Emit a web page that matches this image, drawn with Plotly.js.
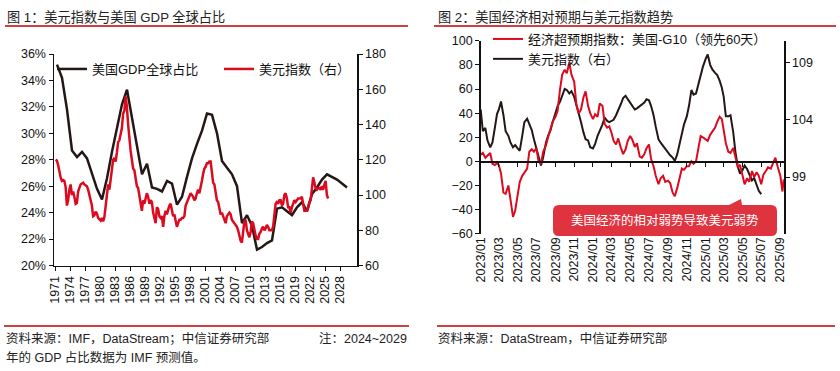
<!DOCTYPE html>
<html><head><meta charset="utf-8">
<script src="https://cdn.plot.ly/plotly-3.0.1.min.js"></script>
<style>html,body{margin:0;padding:0;background:#fff;}#chart{width:840px;height:371px;}</style>
</head><body><div id="chart"></div>
<script>
// ---------- Figure 1: US share of world GDP (annual, %) and dollar index (quarterly) ----------
const gdpYears = [1971,1972,1973,1974,1975,1976,1977,1978,1979,1980,1981,1982,1983,1984,1985,1986,1987,1988,1989,1990,
  1991,1992,1993,1994,1995,1996,1997,1998,1999,2000,2001,2002,2003,2004,2005,2006,2007,2008,2009,2010,
  2011,2012,2013,2014,2015,2016,2017,2018,2019,2020,2021,2022,2023,2024,2025,2026,2027,2028,2029];
const gdpShare = [35.2,34.2,31.8,28.7,28.2,28.6,28.1,27.0,25.8,25.0,26.6,28.6,30.3,32.2,33.3,31.1,28.8,26.9,27.7,25.9,
  25.8,25.6,26.4,26.2,24.6,25.2,26.7,28.1,29.2,30.2,31.5,31.4,30.0,27.9,27.4,26.9,26.0,23.2,23.8,23.0,
  21.2,21.4,21.7,21.9,24.3,24.4,24.1,23.8,24.4,24.8,24.1,25.4,25.9,26.5,26.9,26.7,26.5,26.2,25.9];
const xTickYears = [1971,1974,1977,1980,1983,1986,1989,1992,1995,1998,2001,2004,2007,2010,2013,2016,2019,2022,2025,2028];
const dxyStartYear = 1971;
const dxyQuarterly = [
  120,119.5,117,113, 110,108,108.5,108, 104.5,94,97,103, 106,100,102,99, 95,95.5,102,104,
  106,106.5,107,106, 105.5,105,103,100, 97,94,88,88.5, 90.5,89.5,87,86, 85.5,87,85,87.5,
  93,100,106,103, 108,114,120,121, 119,124,130,131, 134,138,146,148, 156,150,140,130,
  125,120,115,114, 110,105,104,100, 94,91,97,95, 98,101,99,95, 97,96,90,86,
  84,93,92,88, 87,88,82,88, 91,89,92,94, 95,91,88,89, 86,82,84,86,
  86,87,87,88, 94,96,98,99, 101,100,99,97, 98,101,103,101, 104,108,112,115,
  116,118,118,119, 119,113,107,106, 101,97,96,92, 89,90,88,85, 84,88,89,90,
  89,86,85,84, 83,82,80,77, 74,73,78,85, 86,80,78,76, 79,85,84,79,
  77,75,75,78, 79,81,82,80, 81,83,82,80, 80,80,82,87, 95,96,95,97,
  97,94,95,100, 101,98,93,93, 90,93,95,97, 96,97,98,98, 98,99,94,91,
  91,91,93,96, 97,102,110,107, 104,103,104,104, 103,105,103,106, 108,100,98];

// ---------- Figure 2: US-G10 economic surprise index (lead 60 days) and dollar index ----------
const weekDates = [
 '2023-01-01','2023-01-08','2023-01-16','2023-01-23','2023-02-01','2023-02-08','2023-02-16','2023-02-23',
 '2023-03-01','2023-03-08','2023-03-16','2023-03-23','2023-04-01','2023-04-08','2023-04-16','2023-04-23',
 '2023-05-01','2023-05-08','2023-05-16','2023-05-23','2023-06-01','2023-06-08','2023-06-16','2023-06-23',
 '2023-07-01','2023-07-08','2023-07-16','2023-07-23','2023-08-01','2023-08-08','2023-08-16','2023-08-23',
 '2023-09-01','2023-09-08','2023-09-16','2023-09-23','2023-10-01','2023-10-08','2023-10-16','2023-10-23',
 '2023-11-01','2023-11-08','2023-11-16','2023-11-23','2023-12-01','2023-12-08','2023-12-16','2023-12-23',
 '2024-01-01','2024-01-08','2024-01-16','2024-01-23','2024-02-01','2024-02-08','2024-02-16','2024-02-23',
 '2024-03-01','2024-03-08','2024-03-16','2024-03-23','2024-04-01','2024-04-08','2024-04-16','2024-04-23',
 '2024-05-01','2024-05-08','2024-05-16','2024-05-23','2024-06-01','2024-06-08','2024-06-16','2024-06-23',
 '2024-07-01','2024-07-08','2024-07-16','2024-07-23','2024-08-01','2024-08-08','2024-08-16','2024-08-23',
 '2024-09-01','2024-09-08','2024-09-16','2024-09-23','2024-10-01','2024-10-08','2024-10-16','2024-10-23',
 '2024-11-01','2024-11-08','2024-11-16','2024-11-23','2024-12-01','2024-12-08','2024-12-16','2024-12-23',
 '2025-01-01','2025-01-08','2025-01-16','2025-01-23','2025-02-01','2025-02-08','2025-02-16','2025-02-23',
 '2025-03-01','2025-03-08','2025-03-16','2025-03-23','2025-04-01','2025-04-08','2025-04-16','2025-04-23',
 '2025-05-01','2025-05-08','2025-05-16','2025-05-23','2025-06-01','2025-06-08','2025-06-16','2025-06-23',
 '2025-07-01','2025-07-08','2025-07-16','2025-07-23','2025-08-01','2025-08-08','2025-08-16','2025-08-23',
 '2025-09-01','2025-09-08','2025-09-12'];
const cesiUsG10 = [
 5.5,7,3,5, 7,-2,-3,-1.5, -3,-10,-26,-27, -20,-32,-46,-41, -30,-17,-12,-9, -6,8,10,8,
 11,0,-2,8, 13,20,28,33, 37,42,60,72, 76,73,82,72, 66,47,40,43, 53,58,46,40,
 35,39,37,48, 46,31,28,29, 24,17,14,19, 11,6,10,17, 21,18,12,15, 4,3,6,11,
 14,2,-4,-12, -19,-14,-12,-17, -16,-18,-26,-29, -22,-14,-6,-7, -4,-4,0,-2, 0,10,21,20,
 18,17,22,25, 28,33,37,35, 25,15,8,7, 11,3,-5,-3, -11,-19,-14,-17, -8,-13,-9,-12,
 -19,-11,-8,-5, -6,-1,3,-4, -12,-25,-15];
const usdIndex = [
 104.9,103.0,103.3,102.2, 101.6,102.0,103.3,104.5, 104.9,105.6,104.4,103.0, 102.6,102.0,101.6,101.8,
 101.5,101.3,102.6,103.8, 104.1,103.6,103.1,102.3, 101.5,100.9,100.0,100.7, 102.0,102.6,103.1,103.8,
 104.6,105.2,105.6,106.1, 106.7,106.6,106.3,106.5, 106.0,105.3,104.6,103.8, 102.9,102.3,102.2,101.6,
 101.5,101.9,102.6,103.0, 103.6,104.2,103.9,103.8, 103.9,104.0,104.4,104.8, 105.4,105.9,106.1,105.8,
 105.5,105.3,104.9,105.0, 105.2,105.4,105.5,105.8, 105.7,105.2,104.4,103.4, 102.3,102.0,101.7,101.5,
 101.1,100.9,100.7,100.4, 101.0,101.8,102.6,103.6, 104.3,105.2,106.6,106.2, 106.3,107.1,108.0,108.6,
 109.3,109.7,108.8,108.4, 108.1,107.9,107.4,106.8, 106.0,104.3,104.3,104.4, 102.9,101.2,99.9,99.3,
 99.6,100.0,99.7,99.2, 98.7,98.9,98.4,97.8, 97.5];

// ---------- layout helpers (pixel -> paper) ----------
const W = 840, H = 371;
const px = v => v / W;
const py = v => 1 - v / H;
const FONT = 'Liberation Sans, Arial, "Noto Sans CJK SC", sans-serif';
const RED = '#DC0A1E', BLACK = '#231815', AXC = '#111';

const leftDomX = [px(54), px(357)], leftDomY = [py(265.5), py(54)];
const rightDomX = [px(480.7), px(784)], rightDomY = [py(233.7), py(40.8)];
const cesiRange = [-60, 100];
const zeroPos = rightDomY[0] + (0 - cesiRange[0]) / (cesiRange[1] - cesiRange[0]) * (rightDomY[1] - rightDomY[0]);
const dateRange = ['2023-01-01', '2025-09-13'];

const traces = [
  {x: gdpYears.map(y => y + 0.4), y: gdpShare, xaxis: 'x', yaxis: 'y', mode: 'lines',
   line: {color: BLACK, width: 2.5}, name: '美国GDP全球占比', legend: 'legend'},
  {x: dxyQuarterly.map((v, i) => dxyStartYear + (i + 0.5) / 4), y: dxyQuarterly, xaxis: 'x', yaxis: 'y2', mode: 'lines',
   line: {color: RED, width: 2.5}, name: '美元指数（右）', legend: 'legend'},
  {x: weekDates, y: cesiUsG10, xaxis: 'x4', yaxis: 'y3', mode: 'lines',
   line: {color: RED, width: 2}, name: '经济超预期指数：美国-G10（领先60天）', legend: 'legend2'},
  {x: weekDates.slice(0, usdIndex.length), y: usdIndex, xaxis: 'x3', yaxis: 'y4', mode: 'lines',
   line: {color: BLACK, width: 2}, name: '美元指数（右）', legend: 'legend2'}
];

const tickFont = {family: FONT, size: 12.5, color: AXC};
const layout = {
  width: W, height: H, autosize: false,
  margin: {l: 0, r: 0, t: 0, b: 0},
  paper_bgcolor: '#fff', plot_bgcolor: 'rgba(0,0,0,0)',
  font: {family: FONT, size: 12.5, color: AXC},
  showlegend: true,
  xaxis: {domain: leftDomX, anchor: 'y', range: [1970.8, 2031.4], tickmode: 'array', tickvals: xTickYears,
    ticktext: xTickYears.map(String),
    tickangle: -90, showline: true, linecolor: AXC, linewidth: 1.5, ticks: 'outside', ticklen: 4, tickcolor: AXC,
    showgrid: false, zeroline: false, tickfont: tickFont, fixedrange: true},
  yaxis: {domain: leftDomY, anchor: 'x', range: [20, 36], dtick: 2, ticksuffix: '%', showline: true, linecolor: AXC,
    linewidth: 1.5, ticks: 'outside', ticklen: 4, tickcolor: AXC, showgrid: false, zeroline: false, tickfont: tickFont},
  yaxis2: {overlaying: 'y', anchor: 'x', side: 'right', range: [60, 180], dtick: 20, showline: true, linecolor: AXC,
    linewidth: 1.5, ticks: 'outside', ticklen: 4, tickcolor: AXC, showgrid: false, zeroline: false, tickfont: tickFont},
  xaxis3: {domain: rightDomX, anchor: 'y3', type: 'date', range: dateRange, tick0: '2023-01-01', dtick: 'M2',
    tickformat: '%Y/%m', tickangle: -90, showline: false, ticks: '', showgrid: false, zeroline: false, tickfont: tickFont},
  xaxis4: {overlaying: 'x3', anchor: 'free', position: zeroPos, type: 'date', range: dateRange, tick0: '2023-01-01',
    dtick: 'M2', showticklabels: false, showline: true, linecolor: AXC, linewidth: 1.5, ticks: 'outside', ticklen: 4,
    tickcolor: AXC, showgrid: false, zeroline: false},
  yaxis3: {domain: rightDomY, anchor: 'x3', range: cesiRange, dtick: 20, showline: true, linecolor: AXC, linewidth: 1.5,
    ticks: 'outside', ticklen: 4, tickcolor: AXC, showgrid: false, zeroline: false, tickfont: tickFont},
  yaxis4: {overlaying: 'y3', anchor: 'x3', side: 'right', range: [94.05, 110.9], tickvals: [94, 99, 104, 109],
    showline: true, linecolor: AXC, linewidth: 1.5, ticks: 'outside', ticklen: 4, tickcolor: AXC, showgrid: false,
    zeroline: false, tickfont: tickFont},
  legend: {orientation: 'h', x: px(52), xanchor: 'left', y: py(69), yanchor: 'middle', bgcolor: 'rgba(0,0,0,0)',
    font: {family: FONT, size: 13, color: AXC}, entrywidth: 122, entrywidthmode: 'pixels', traceorder: 'normal'},
  legend2: {orientation: 'v', x: px(488), xanchor: 'left', y: py(49), yanchor: 'middle', bgcolor: 'rgba(0,0,0,0)',
    font: {family: FONT, size: 13, color: AXC}, tracegroupgap: 0, traceorder: 'normal'},
  shapes: [], annotations: []
};

// header / footer rules
[[5, 408, 26], [434, 836, 26], [4, 409, 326], [437, 835, 326]].forEach(([a, b, y]) => {
  layout.shapes.push({type: 'line', xref: 'paper', yref: 'paper', x0: px(a), x1: px(b), y0: py(y), y1: py(y),
    line: {color: '#C00000', width: 1.5}});
});

// callout box (rounded rectangle with small tail)
(function () {
  const x0 = 553, x1 = 777, y0 = 205, y1 = 236, r = 6;
  const P = (x, y) => px(x).toFixed(5) + ',' + py(y).toFixed(5);
  const d = 'M' + P(x0 + r, y0) + ' L' + P(729, y0) + ' L' + P(741, 199) + ' L' + P(742, y0) + ' L' + P(x1 - r, y0) +
    ' Q' + P(x1, y0) + ' ' + P(x1, y0 + r) + ' L' + P(x1, y1 - r) + ' Q' + P(x1, y1) + ' ' + P(x1 - r, y1) +
    ' L' + P(x0 + r, y1) + ' Q' + P(x0, y1) + ' ' + P(x0, y1 - r) + ' L' + P(x0, y0 + r) + ' Q' + P(x0, y0) + ' ' + P(x0 + r, y0) + ' Z';
  layout.shapes.push({type: 'path', xref: 'paper', yref: 'paper', path: d, fillcolor: '#E03340',
    line: {width: 0}, layer: 'above'});
})();

const ann = (text, x, y, opts = {}) => Object.assign({text, x: px(x), y: py(y), xref: 'paper', yref: 'paper',
  xanchor: 'left', yanchor: 'middle', showarrow: false, font: {family: FONT, size: 12.5, color: '#222'}}, opts);
layout.annotations.push(
  ann('图 1：美元指数与美国 GDP 全球占比', 5, 17, {font: {family: FONT, size: 13.2, color: '#222'}}),
  ann('图 2：美国经济相对预期与美元指数趋势', 436, 17, {font: {family: FONT, size: 13.2, color: '#222'}}),
  ann('资料来源：IMF，DataStream；中信证券研究部', 4, 338),
  ann('注：2024~2029', 409, 338, {xanchor: 'right'}),
  ann('年的 GDP 占比数据为 IMF 预测值。', 4, 357),
  ann('资料来源：DataStream，中信证券研究部', 436, 338),
  ann('美国经济的相对弱势导致美元弱势', 665, 221, {xanchor: 'center', font: {family: FONT, size: 12.5, color: '#fff'}})
);

Plotly.newPlot('chart', traces, layout, {staticPlot: true, displayModeBar: false});
</script></body></html>
